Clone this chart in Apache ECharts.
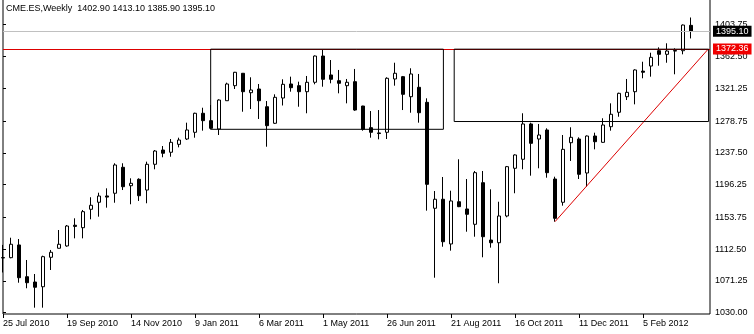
<!DOCTYPE html>
<html><head><meta charset="utf-8">
<script src="https://cdn.jsdelivr.net/npm/echarts@6/dist/echarts.min.js"></script>
<style>html,body{margin:0;padding:0;background:#fff}#c{width:754px;height:334px}</style>
</head><body><div id="c"></div>
<script>
const symbolTitle = 'CME.ES,Weekly  1402.90 1413.10 1385.90 1395.10';
const firstWeek = '2010-07-25';
const weekCount = 87;

const opens = [1101.5,1101.4,1117.9,1076.7,1069.8,1063.7,1101.9,1113.6,1116.6,1143.5,
  1140.3,1164.2,1173.3,1181.5,1185.0,1218.7,1194.8,1203.1,1189.2,1222.6,
  1241.1,1238.2,1248.5,1255.4,1264.1,1288.8,1279.2,1268.4,1305.1,1324.6,
  1340.7,1315.5,1320.3,1297.3,1275.8,1308.6,1326.8,1324.6,1316.8,1329.0,
  1363.1,1338.5,1331.1,1324.6,1329.8,1298.2,1270.1,1263.3,1264.1,1333.3,
  1336.3,1310.3,1322.5,1303.0,1165.5,1177.2,1119.2,1174.0,1164.6,1144.7,
  1198.7,1124.3,1120.8,1155.5,1217.4,1229.1,1274.9,1255.4,1267.1,1203.5,
  1173.3,1250.6,1255.4,1211.3,1259.3,1251.1,1271.4,1290.1,1310.3,1316.8,
  1343.5,1350.1,1370.0,1365.3,1369.5,1370.0,1402.9];
const highs = [1118.0,1127.3,1125.6,1098.4,1080.2,1104.0,1111.4,1137.3,1143.8,1152.5,
  1163.3,1179.8,1185.7,1191.4,1223.9,1223.9,1204.4,1204.4,1226.0,1241.1,
  1246.3,1255.4,1257.1,1276.6,1289.5,1296.0,1299.5,1306.9,1328.5,1342.5,
  1341.0,1335.5,1326.8,1304.7,1313.4,1332.9,1336.3,1329.8,1337.2,1363.8,
  1371.8,1357.9,1345.0,1333.3,1346.3,1298.5,1291.7,1293.0,1335.5,1354.4,
  1337.2,1347.2,1339.8,1308.2,1187.9,1206.1,1188.3,1229.1,1203.5,1213.9,
  1213.9,1190.1,1174.0,1220.4,1235.5,1288.8,1276.6,1274.9,1269.3,1206.5,
  1260.6,1270.6,1257.6,1260.0,1263.6,1282.3,1301.7,1315.5,1333.3,1345.9,
  1355.7,1367.4,1374.4,1379.6,1373.1,1404.0,1413.1];
const lows = [1082.2,1100.6,1068.9,1061.7,1036.5,1036.5,1085.4,1113.3,1115.6,1126.5,
  1126.5,1151.2,1154.6,1166.3,1172.7,1189.2,1170.7,1175.0,1172.0,1216.1,
  1231.7,1232.4,1244.6,1254.1,1257.1,1266.2,1268.0,1260.6,1305.0,1320.3,
  1290.8,1294.3,1281.4,1245.4,1275.0,1298.9,1316.8,1297.3,1288.8,1326.4,
  1323.3,1327.7,1314.7,1301.7,1292.0,1266.2,1257.1,1255.0,1255.4,1324.6,
  1293.0,1289.5,1276.6,1162.4,1075.4,1115.6,1110.5,1167.0,1135.1,1128.6,
  1101.9,1114.4,1068.2,1153.8,1185.0,1216.1,1207.8,1217.4,1205.2,1148.1,
  1168.9,1226.9,1203.5,1193.5,1242.0,1250.5,1266.2,1284.3,1306.0,1300.4,
  1334.2,1336.3,1350.5,1354.4,1339.4,1365.3,1385.9];
const closes = [1101.0,1118.8,1075.4,1068.9,1063.0,1102.7,1108.4,1118.8,1142.5,1142.0,
  1161.1,1169.4,1181.4,1180.0,1221.7,1193.5,1197.9,1181.8,1222.6,1239.8,
  1236.9,1251.1,1254.1,1267.1,1288.8,1279.2,1269.3,1306.0,1326.8,1342.0,
  1316.8,1319.0,1305.1,1272.7,1309.5,1326.4,1322.0,1316.8,1329.0,1363.1,
  1332.9,1332.9,1327.7,1329.0,1293.0,1268.0,1264.1,1262.5,1334.2,1340.7,
  1313.4,1339.8,1289.5,1196.6,1177.2,1122.1,1175.0,1167.6,1157.7,1211.7,
  1128.6,1120.8,1155.5,1219.5,1234.7,1274.9,1249.8,1260.6,1211.7,1152.5,
  1242.0,1257.6,1209.6,1259.3,1251.9,1273.6,1287.5,1314.7,1316.0,1345.0,
  1342.0,1361.4,1365.3,1369.6,1370.3,1403.3,1395.1];

const xTickLabels = ['25 Jul 2010','19 Sep 2010','14 Nov 2010','9 Jan 2011','6 Mar 2011','1 May 2011',
  '26 Jun 2011','21 Aug 2011','16 Oct 2011','11 Dec 2011','5 Feb 2012'];
const yTickLabels = ['1030.00','1071.25','1112.50','1153.75','1196.25','1237.50','1278.75','1321.25','1362.50','1403.75'];

const bidLevel = 1395.10;
const alertLevel = 1372.36;
// rectangles: [bar index from, bar index to, price low, price high]
const boxFrom = [25.96, 56.4];
const boxTo = [55.05, 88.2];
const boxLow = [1268.0, 1278.1];
const boxHigh = [1372.0, 1372.0];
// trend line: [bar index, price] start and end
const trendStart = [69, 1148.1];
const trendEnd = [88.17, 1372.3];

const priceMin = 1028.3, priceMax = 1437.1;
const barMax = 88.375;

const MONTHS = ['Jan','Feb','Mar','Apr','May','Jun','Jul','Aug','Sep','Oct','Nov','Dec'];
const t0 = Date.parse(firstWeek + 'T00:00:00Z');
const weeks = [];
for (let i = 0; i < weekCount; i++) {
  const d = new Date(t0 + i * 7 * 86400000);
  weeks.push(d.getUTCDate() + ' ' + MONTHS[d.getUTCMonth()] + ' ' + d.getUTCFullYear());
}
const xTickIdx = xTickLabels.map(l => weeks.indexOf(l));
const yTickVals = yTickLabels.map(Number);

const candles = weeks.map((w, i) => [i, opens[i], closes[i], lows[i], highs[i]]);

const F = 'Liberation Sans';
const chart = echarts.init(document.getElementById('c'), null, {renderer: 'canvas'});
chart.setOption({
  animation: false,
  backgroundColor: '#ffffff',
  title: {
    text: symbolTitle, left: 6, top: 4, padding: 0,
    textStyle: {fontFamily: F, fontSize: 9, fontWeight: 'normal', color: '#000'}
  },
  grid: {left: 3, right: 44, top: -1, bottom: 20, show: true, borderColor: '#000', borderWidth: 1,
    backgroundColor: '#fff', containLabel: false, outerBoundsMode: 'none'},
  xAxis: {
    type: 'value', min: 0, max: barMax,
    axisLine: {show: false}, splitLine: {show: false},
    axisTick: {show: true, length: 4, customValues: xTickIdx, lineStyle: {color: '#000'}},
    axisLabel: {
      customValues: xTickIdx,
      formatter: v => weeks[Math.round(v)] || '',
      align: 'left', margin: 5, fontFamily: F, fontSize: 9, color: '#000'
    }
  },
  yAxis: {
    type: 'value', position: 'right', min: priceMin, max: priceMax,
    axisLine: {show: false}, splitLine: {show: false},
    axisTick: {show: true, length: 3, customValues: yTickVals, lineStyle: {color: '#000'}},
    axisLabel: {
      customValues: yTickVals,
      formatter: v => { const k = yTickVals.indexOf(v); return k >= 0 ? yTickLabels[k] : ''; },
      margin: 5, fontFamily: F, fontSize: 9, color: '#000'
    }
  },
  series: [
    {
      type: 'candlestick', name: 'CME.ES', data: candles, barWidth: 4, clip: true,
      itemStyle: {color: '#ffffff', color0: '#000000', borderColor: '#000000', borderColor0: '#000000', borderWidth: 1},
      emphasis: {disabled: true}
    },
    {
      type: 'line', data: [], silent: true,
      markLine: {
        silent: true, symbol: ['none', 'none'], z: 5, animation: false,
        data: [
          {yAxis: bidLevel, lineStyle: {color: '#c0c0c0', width: 1, type: 'solid'},
            label: {show: true, position: 'end', distance: 3, formatter: bidLevel.toFixed(2),
              backgroundColor: '#000', color: '#fff', padding: [1, 3, 0, 3], lineHeight: 10,
              fontFamily: F, fontSize: 9}},
          {yAxis: alertLevel, lineStyle: {color: '#dd0000', width: 1, type: 'solid'},
            label: {show: true, position: 'end', distance: 3, formatter: alertLevel.toFixed(2),
              backgroundColor: '#f00000', color: '#fff', padding: [1, 3, 0, 3], lineHeight: 10,
              fontFamily: F, fontSize: 9}},
          [{coord: trendStart, lineStyle: {color: '#dd0000', width: 1, type: 'solid'}, label: {show: false}},
           {coord: trendEnd}]
        ]
      }
    },
    {
      type: 'line', data: [], silent: true,
      markArea: {
        silent: true, z: 6,
        itemStyle: {color: 'rgba(0,0,0,0)', borderColor: '#000', borderWidth: 1},
        label: {show: false},
        data: boxFrom.map((f, i) => [{coord: [f, boxHigh[i]]}, {coord: [boxTo[i], boxLow[i]]}])
      }
    }
  ]
});
</script></body></html>
